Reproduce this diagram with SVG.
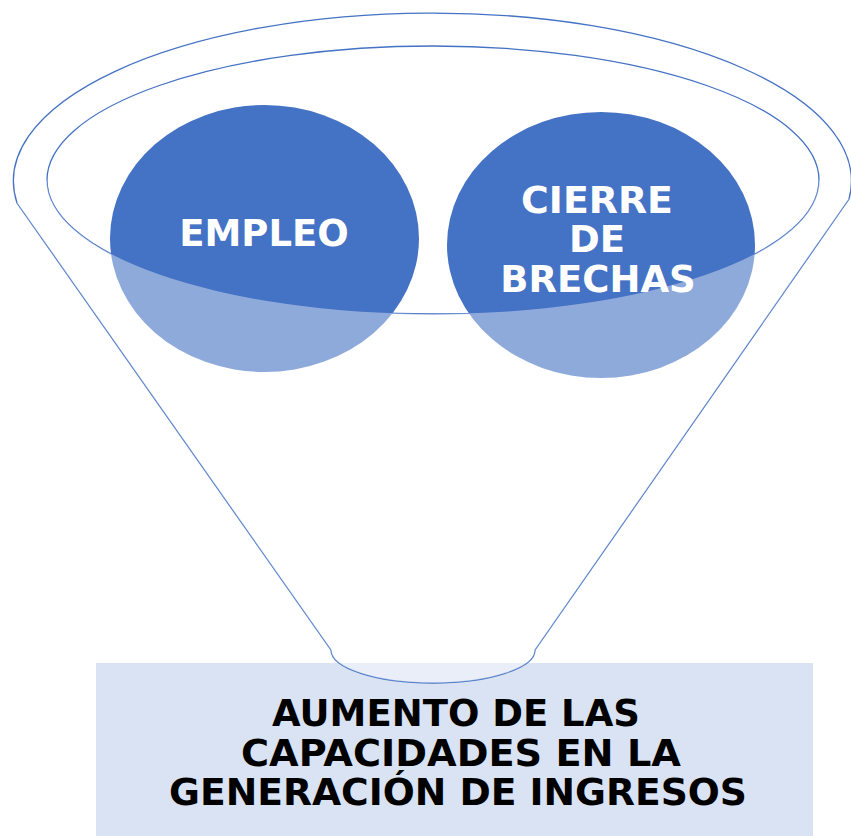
<svg xmlns="http://www.w3.org/2000/svg" width="851" height="836" viewBox="0 0 851 836">
  <style>
    .line { fill: none; stroke: #4472C4; stroke-width: 1.3; }
    .circle { fill: #4472C4; }
    .front { fill: #FFFFFF; fill-opacity: 0.4; stroke: none; }
    .ctext { font-family: "DejaVu Sans", Verdana, sans-serif; font-weight: bold; font-size: 37px; fill: #FFFFFF; text-anchor: middle; }
    .btext { font-family: "DejaVu Sans", Verdana, sans-serif; font-weight: bold; font-size: 37px; fill: #000000; text-anchor: middle; }
  </style>
  <rect width="851" height="836" fill="#FFFFFF"/>
  <g id="box">
    <rect x="96" y="663" width="717" height="173" fill="#DAE3F3"/>
  </g>
  <g id="funnel-lines">
    <path class="line" d="M 17,203 A 419,168 0 1 1 849,199 L 535,650 A 102,33 0 0 1 331,650 Z"/>
    <ellipse class="line" cx="433" cy="180" rx="386" ry="134"/>
  </g>
  <g id="empleo">
    <ellipse class="circle" cx="264.5" cy="238.5" rx="154.5" ry="133.5"/>
  </g>
  <g id="cierre">
    <ellipse class="circle" cx="601" cy="245" rx="154" ry="133"/>
  </g>
  <g id="funnel-front">
    <path class="front" d="M 47,180 A 386,134 0 0 0 819,180 L 849,199 L 535,650 A 102,33 0 0 1 331,650 L 17,203 Z"/>
  </g>
  <g id="labels">
    <text class="ctext" x="264" y="246">EMPLEO</text>
    <text class="ctext" x="597" y="213" textLength="152" lengthAdjust="spacingAndGlyphs">CIERRE</text>
    <text class="ctext" x="597" y="252">DE</text>
    <text class="ctext" x="598" y="292">BRECHAS</text>
    <text class="btext" x="456" y="726">AUMENTO DE LAS</text>
    <text class="btext" x="461" y="766" textLength="440" lengthAdjust="spacingAndGlyphs">CAPACIDADES EN LA</text>
    <text class="btext" x="458" y="805" textLength="578" lengthAdjust="spacingAndGlyphs">GENERACIÓN DE INGRESOS</text>
  </g>
</svg>
